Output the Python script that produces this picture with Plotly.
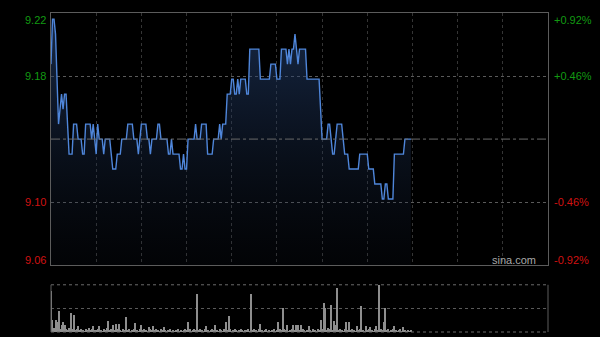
import plotly.graph_objects as go

# ---------------- data ----------------
prev_close = 9.14
pct_levels = [0.0092, 0.0046, -0.0046, -0.0092]
price_labels = ["9.22", "9.18", "9.10", "9.06"]
pct_labels = ["+0.92%", "+0.46%", "-0.46%", "-0.92%"]
time_ticks = [30, 60, 90, 120, 150, 180, 210, 240, 270, 300]
total_minutes = 330

price = [
    9.19, 9.22, 9.22, 9.21, 9.18, 9.15, 9.16, 9.17, 9.16, 9.17,
    9.17, 9.15, 9.13, 9.13, 9.13, 9.15, 9.15, 9.15, 9.14, 9.14,
    9.14, 9.13, 9.13, 9.15, 9.15, 9.15, 9.15, 9.14, 9.15, 9.14,
    9.13, 9.15, 9.14, 9.14, 9.14, 9.13, 9.14, 9.14, 9.14, 9.14,
    9.13, 9.12, 9.12, 9.12, 9.13, 9.13, 9.13, 9.14, 9.14, 9.14,
    9.14, 9.15, 9.15, 9.15, 9.15, 9.14, 9.14, 9.14, 9.13, 9.14,
    9.15, 9.15, 9.15, 9.15, 9.14, 9.14, 9.13, 9.14, 9.14, 9.14,
    9.14, 9.15, 9.15, 9.14, 9.14, 9.14, 9.14, 9.14, 9.13, 9.13,
    9.14, 9.13, 9.13, 9.13, 9.13, 9.13, 9.12, 9.12, 9.13, 9.12,
    9.12, 9.14, 9.14, 9.14, 9.14, 9.14, 9.15, 9.14, 9.14, 9.14,
    9.15, 9.15, 9.15, 9.15, 9.13, 9.13, 9.13, 9.13, 9.14, 9.14,
    9.14, 9.14, 9.15, 9.14, 9.15, 9.15, 9.15, 9.17, 9.17, 9.17,
    9.18, 9.18, 9.17, 9.17, 9.18, 9.17, 9.18, 9.18, 9.18, 9.18,
    9.17, 9.17, 9.20, 9.20, 9.20, 9.20, 9.20, 9.20, 9.20, 9.18,
    9.18, 9.18, 9.18, 9.18, 9.18, 9.18, 9.19, 9.19, 9.19, 9.19,
    9.18, 9.18, 9.18, 9.20, 9.20, 9.20, 9.20, 9.19, 9.20, 9.19,
    9.20, 9.20, 9.21, 9.20, 9.19, 9.20, 9.20, 9.20, 9.20, 9.20,
    9.18, 9.18, 9.18, 9.18, 9.18, 9.18, 9.18, 9.18, 9.18, 9.16,
    9.14, 9.14, 9.14, 9.14, 9.15, 9.15, 9.14, 9.13, 9.13, 9.14,
    9.15, 9.15, 9.15, 9.15, 9.14, 9.13, 9.13, 9.13, 9.12, 9.12,
    9.12, 9.12, 9.12, 9.12, 9.12, 9.13, 9.13, 9.13, 9.13, 9.13,
    9.13, 9.12, 9.12, 9.12, 9.12, 9.11, 9.11, 9.11, 9.11, 9.11,
    9.10, 9.10, 9.11, 9.11, 9.10, 9.10, 9.10, 9.10, 9.13, 9.13,
    9.13, 9.13, 9.13, 9.13, 9.13, 9.14, 9.14, 9.14, 9.14, 9.14,
]

volume = [
    41, 12, 4, 12, 10, 21, 3, 7, 10, 7,
    3, 2, 4, 19, 3, 17, 2, 3, 6, 2,
    3, 2, 1, 3, 2, 4, 2, 3, 6, 2,
    2, 3, 6, 2, 1, 3, 2, 4, 11, 2,
    3, 7, 2, 8, 3, 8, 2, 1, 3, 2,
    15, 2, 3, 1, 2, 3, 9, 2, 1, 3,
    7, 2, 3, 2, 1, 5, 3, 2, 6, 2,
    3, 2, 1, 3, 2, 5, 2, 1, 2, 3,
    1, 2, 1, 2, 3, 1, 2, 1, 2, 3,
    2, 10, 3, 1, 2, 3, 2, 38, 2, 3,
    2, 1, 3, 6, 2, 1, 2, 3, 2, 7,
    2, 1, 3, 2, 1, 3, 10, 2, 16, 3,
    1, 2, 3, 2, 1, 2, 3, 2, 1, 2,
    2, 3, 1, 38, 2, 3, 2, 1, 3, 8,
    2, 1, 2, 3, 1, 2, 1, 2, 3, 1,
    2, 10, 3, 2, 24, 3, 2, 7, 1, 2,
    3, 7, 2, 7, 7, 2, 7, 3, 2, 1,
    2, 6, 2, 1, 3, 2, 1, 3, 2, 12,
    3, 29, 24, 2, 4, 3, 27, 2, 11, 7,
    44, 2, 3, 2, 1, 3, 10, 2, 10, 2,
    3, 2, 1, 6, 2, 3, 26, 2, 1, 6,
    2, 3, 5, 2, 1, 3, 6, 2, 47, 3,
    2, 10, 24, 2, 3, 1, 2, 3, 6, 2,
    1, 2, 3, 1, 5, 2, 1, 2, 1, 2,
]

minutes = list(range(len(price)))

# ---------------- derived ----------------
levels = [prev_close * (1 + p) for p in pct_levels]
y_top, y_bot = levels[0], levels[-1]
GREEN = "#129a12"
RED = "#d01212"
label_colors = [GREEN, GREEN, RED, RED]
FONT = "Liberation Sans, Arial, sans-serif"

fig = go.Figure()

fig.add_trace(go.Scatter(
    x=minutes, y=price, mode="lines",
    line=dict(color="#4f86da", width=1.4),
    fill="tozeroy",
    fillgradient=dict(
        type="vertical", start=y_bot, stop=y_top,
        colorscale=[[0, "rgba(20,30,50,0.12)"], [1, "rgba(40,72,125,0.58)"]],
    ),
    xaxis="x", yaxis="y", hoverinfo="skip", showlegend=False,
))

fig.add_trace(go.Bar(
    x=minutes, y=volume, width=0.68,
    marker=dict(color="#8e8e8e", line=dict(width=0)),
    xaxis="x2", yaxis="y2", hoverinfo="skip", showlegend=False,
))

grid_v = dict(showgrid=True, gridcolor="#353535", griddash="dot", gridwidth=1,
              tickvals=time_ticks, showticklabels=False, ticks="",
              zeroline=False, range=[0, total_minutes], fixedrange=True)

fig.update_layout(
    width=600, height=337,
    margin=dict(l=51, r=52, t=13, b=5),
    paper_bgcolor="#000000", plot_bgcolor="#000000",
    bargap=0,
    xaxis=dict(**grid_v, domain=[0, 1], anchor="y",
               showline=True, linecolor="#5c5c5c", linewidth=1, mirror=True),
    yaxis=dict(domain=[0.2095, 1], range=[y_bot, y_top], tickvals=levels[1:3],
               showgrid=True, gridcolor="#5a5a5a", griddash="dot",
               showticklabels=False, ticks="", zeroline=False,
               showline=True, linecolor="#5c5c5c", linewidth=1, mirror=True),
    xaxis2=dict(domain=[0, 1], anchor="y2", range=[0, total_minutes],
                showgrid=False, showticklabels=False, ticks="", zeroline=False),
    yaxis2=dict(domain=[0, 0.148], range=[0, max(volume)],
                tickvals=[max(volume) / 2], showgrid=True, gridcolor="#5a5a5a",
                griddash="dot", showticklabels=False, ticks="", zeroline=False),
    showlegend=False,
)

# previous close line
fig.add_shape(type="line", xref="x domain", yref="y", x0=0, x1=1,
              y0=prev_close, y1=prev_close,
              line=dict(color="#6a6a6a", width=1, dash="dashdot"))

# volume panel frame
fig.add_shape(type="line", xref="x2 domain", yref="y2 domain", x0=0, x1=1, y0=1, y1=1,
              line=dict(color="#6a6a6a", width=1, dash="dot"))
fig.add_shape(type="line", xref="x2 domain", yref="y2 domain", x0=0, x1=1, y0=0, y1=0,
              line=dict(color="#6a6a6a", width=1, dash="dot"))
fig.add_shape(type="line", xref="x2 domain", yref="y2 domain", x0=0, x1=0, y0=0, y1=1,
              line=dict(color="#5c5c5c", width=1))
fig.add_shape(type="line", xref="x2 domain", yref="y2 domain", x0=1, x1=1, y0=0, y1=1,
              line=dict(color="#5c5c5c", width=1))

# axis labels
anchors = ["top", "middle", "middle", "bottom"]
for lv, pl, ql, col, anc in zip(levels, price_labels, pct_labels, label_colors, anchors):
    yshift = 1 if anc == "top" else (-3 if anc == "bottom" else 0)
    fig.add_annotation(x=0, xref="x domain", y=lv, yref="y", text=pl,
                       xanchor="right", yanchor=anc, xshift=-3, yshift=yshift,
                       showarrow=False, font=dict(family=FONT, size=11, color=col))
    fig.add_annotation(x=1, xref="x domain", y=lv, yref="y", text=ql,
                       xanchor="left", yanchor=anc, xshift=4, yshift=yshift,
                       showarrow=False, font=dict(family=FONT, size=11, color=col))

fig.add_annotation(x=0.979, xref="x domain", y=0.0, yref="y domain", text="sina.com",
                   xanchor="right", yanchor="bottom", yshift=-3, showarrow=False,
                   font=dict(family=FONT, size=11, color="#a8a8a8"))

fig.write_html("out.html")
